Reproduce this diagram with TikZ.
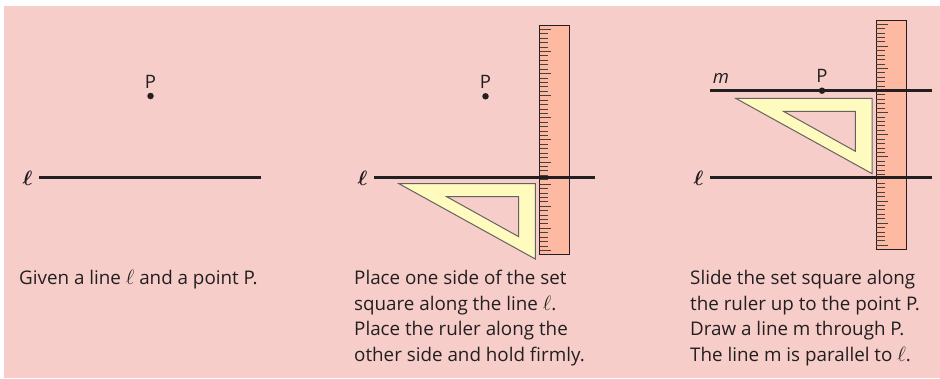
\documentclass[tikz,border=0pt]{standalone}
\usepackage{fontspec}
\setmainfont{Open Sans}
\definecolor{bgpink}{HTML}{F6CDC8}
\definecolor{rulerfill}{HTML}{FDB9A2}
\definecolor{setfill}{HTML}{FFFBBE}
\definecolor{inkline}{HTML}{231F20}
\tikzset{
  x=1pt,y=-1pt,
  conline/.style={line width=2.7pt,draw=inkline},
  rulerbox/.style={draw=inkline,line width=0.9pt,fill=rulerfill},
  ticklin/.style={draw=inkline!85,line width=0.85pt},
  setsq/.style={draw=inkline!70,line width=1pt,fill=setfill,even odd rule,line join=miter},
  dotn/.style={circle,fill=inkline,inner sep=0pt,minimum size=6.5pt},
  lbl/.style={font=\fontsize{18.5}{20}\selectfont,text=inkline,inner sep=0pt},
  captxt/.style={font=\fontsize{18.8}{25.7}\selectfont,text=inkline,inner sep=0pt,anchor=north west,align=left},
}
\newcommand{\ellsym}{{\fontsize{21}{21}\selectfont$\ell$}}
\newcommand{\elllabel}{{\fontsize{22}{22}\selectfont\boldmath$\ell$}}
\newcommand{\drawruler}[3]{% x, top y, bottom y
  \draw[rulerbox] (#1,#2) rectangle (#1+30,#3);
  \foreach \i in {0,...,50}{
    \pgfmathsetmacro{\yy}{#2+3.9+\i*4.42}
    \pgfmathsetmacro{\ll}{mod(\i,5)==0?11.5:8.5}
    \draw[ticklin] (#1,\yy) -- (#1+\ll,\yy);
  }
}
\newcommand{\drawset}[2]{% x, y of top-left outer vertex
  \draw[setsq] (#1,#2) -- (#1+136.3,#2) -- (#1+136.3,#2+75.3) -- cycle
    (#1+47.7,#2+13) -- (#1+119.7,#2+13) -- (#1+119.7,#2+53) -- cycle;
}
\begin{document}
\begin{tikzpicture}
\useasboundingbox (0,0) rectangle (940,378);
\fill[white] (0,0) rectangle (940,378);
\fill[bgpink] (4,6) rectangle (940,378);

% panel 1
\node[dotn] (p1) at (150.5,96) {};
\node[lbl] (p1l) at (150.5,81.5) {P};
\coordinate (a1) at (39,177.7);
\coordinate (b1) at (261,177.7);
\draw[conline] (a1) -- (b1);
\node[lbl] (l1) at (27.5,178) {\elllabel};
\node[captxt] (c1) at (19,270) {Given a line \ellsym\ and a point P.};

% panel 2
\drawruler{539.5}{25.5}{254}
\drawset{399}{183.7}
\node[dotn] (p2) at (485.5,96.3) {};
\node[lbl] (p2l) at (485.5,81.5) {P};
\coordinate (a2) at (374,177.7);
\coordinate (b2) at (595,177.7);
\draw[conline] (a2) -- (b2);
\node[lbl] (l2) at (362.5,178) {\elllabel};
\node[captxt] (c2) at (354,270) {Place one side of the set\\square along the line \ellsym.\\Place the ruler along the\\other side and hold firmly.};

% panel 3
\drawruler{876.3}{20.3}{249}
\drawset{735.7}{98.3}
\coordinate (a3) at (710,177.7);
\coordinate (b3) at (932,177.7);
\draw[conline] (a3) -- (b3);
\node[lbl] (l3) at (698.5,178) {\elllabel};
\coordinate (a4) at (710,90.7);
\coordinate (b4) at (932,90.7);
\draw[conline] (a4) -- (b4);
\node[dotn] (p3) at (822,90.7) {};
\node[lbl] (p3l) at (822,75.5) {P};
\node[lbl] (m) at (721,78) {\itshape m};
\node[captxt] (c3) at (690,270) {Slide the set square along\\the ruler up to the point P.\\Draw a line m through P.\\The line m is parallel to \ellsym.};
\end{tikzpicture}
\end{document}
